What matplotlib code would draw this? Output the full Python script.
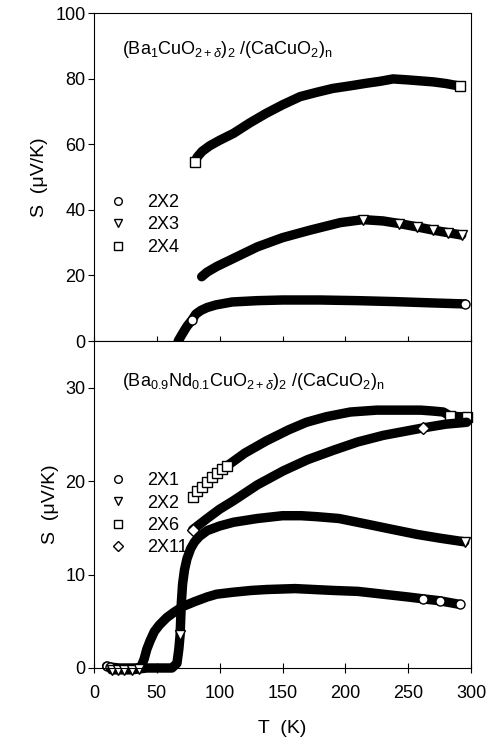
import matplotlib
matplotlib.use("Agg")
import matplotlib.pyplot as plt
import numpy as np

plt.rcParams["font.family"] = ["Liberation Sans", "DejaVu Sans"]
plt.rcParams["mathtext.fontset"] = "custom"
plt.rcParams["mathtext.rm"] = "Liberation Sans"
plt.rcParams["mathtext.it"] = "Liberation Sans:italic"

# ---------------- top panel: (Ba1CuO2+d)2/(CaCuO2)n ----------------
t_top_2x2 = [67, 70, 74, 78, 81, 85, 90, 97, 110, 130, 150, 180, 210, 240, 270, 295]
s_top_2x2 = [0, 2, 4.5, 6.4, 8.2, 9.3, 10.2, 11, 11.9, 12.3, 12.5, 12.5, 12.3, 12.0, 11.6, 11.3]

t_top_2x3 = [85.7, 90, 97.6, 110, 130, 150, 172, 196, 214, 230, 243, 257, 270, 282, 292.6]
s_top_2x3 = [19.6, 21, 22.7, 25, 28.7, 31.5, 33.8, 36.1, 37, 36.6, 35.8, 34.8, 33.8, 33, 32.3]

t_top_2x4 = [80.4, 82, 86, 92, 100, 111, 124, 137, 150, 164, 177, 190, 204, 217, 228, 238, 250, 260, 270, 280, 291.3]
s_top_2x4 = [54.5, 56, 57.8, 59.5, 61.2, 63.3, 66.5, 69.4, 72, 74.5, 75.8, 77, 77.8, 78.6, 79.2, 79.9, 79.6, 79.3, 79, 78.5, 77.7]

# ---------------- bottom panel: (Ba0.9Nd0.1CuO2+d)2/(CaCuO2)n ----------------
t_bot_2x1 = [10, 13, 20, 28, 36, 38, 40, 42, 44.6, 48, 52, 57.9, 64, 71, 80, 90, 97.6,
             110, 125, 137.4, 160, 190.4, 210, 230, 250, 262, 275, 291.3]
s_bot_2x1 = [0.2, 0.1, 0, 0, 0, 0.3, 1.0, 2.0, 2.9, 3.9, 4.6, 5.4, 6.0, 6.6, 7.1, 7.6, 7.9,
             8.1, 8.3, 8.4, 8.5, 8.3, 8.2, 7.9, 7.6, 7.4, 7.2, 6.8]

t_bot_2x2 = [14, 19, 24, 30, 36, 42, 48, 55, 62, 66, 67.5, 68.5, 69.5, 70.5, 72, 74, 77, 80, 84,
             90, 100, 111, 130, 150, 165, 177, 195, 217, 235, 257, 275, 295]
s_bot_2x2 = [-0.2, -0.2, -0.2, -0.2, -0.1, 0, 0, 0, 0, 0.5, 2, 3.5, 7, 9, 10.5, 11.7, 12.8, 13.5, 14.1,
             14.7, 15.2, 15.6, 16.0, 16.3, 16.3, 16.2, 16.0, 15.4, 14.9, 14.3, 13.9, 13.5]

t_bot_2x6 = [78.5, 82, 86, 90, 94, 98, 102, 105.6, 120, 137, 155, 169, 185, 204, 225, 244,
             260, 270, 278, 283, 290, 297]
s_bot_2x6 = [18.3, 18.9, 19.4, 19.9, 20.4, 20.9, 21.3, 21.6, 23, 24.3, 25.5, 26.3, 26.9, 27.4,
             27.6, 27.6, 27.6, 27.5, 27.4, 27.0, 26.9, 26.9]

t_bot_2x11 = [78.5, 90, 100, 110.9, 130, 150.6, 170, 190.4, 210, 230.2, 250, 262, 280, 296.6]
s_bot_2x11 = [14.8, 16.0, 17.0, 17.9, 19.6, 21.1, 22.3, 23.3, 24.2, 24.9, 25.4, 25.7, 26.1, 26.3]

top_title = r"(Ba$_1$CuO$_{2+\delta}$)$_2$ /(CaCuO$_2$)$_\mathrm{n}$"
bot_title = r"(Ba$_{0.9}$Nd$_{0.1}$CuO$_{2+\delta}$)$_2$ /(CaCuO$_2$)$_\mathrm{n}$"


def draw_series(ax, t, s, marker, label, mark_idx, line_from=0):
    t = np.asarray(t)
    s = np.asarray(s)
    ax.plot(t[line_from:], s[line_from:], color="k", lw=6.8,
            solid_capstyle="round", solid_joinstyle="round", clip_on=False)
    ax.plot(t[mark_idx], s[mark_idx], ls="none", marker=marker, ms=6.5,
            mfc="white", mec="k", mew=1.0, clip_on=False, label=label)


fig = plt.figure(figsize=(4.89, 7.47), dpi=100)
ax1 = fig.add_axes([94 / 489, 1 - 341 / 747, 377 / 489, 328 / 747])
ax2 = fig.add_axes([94 / 489, 1 - 668 / 747, 377 / 489, 327 / 747])

draw_series(ax1, t_top_2x2, s_top_2x2, "o", "2X2", [3, -1])
draw_series(ax1, t_top_2x3, s_top_2x3, "v", "2X3", [8, 10, 11, 12, 13, -1])
draw_series(ax1, t_top_2x4, s_top_2x4, "s", "2X4", [0, -1])

draw_series(ax2, t_bot_2x1, s_bot_2x1, "o", "2X1", [0, 1, -3, -2, -1])
draw_series(ax2, t_bot_2x2, s_bot_2x2, "v", "2X2", [0, 1, 2, 3, 4, 11, -1])
draw_series(ax2, t_bot_2x6, s_bot_2x6, "s", "2X6", list(range(8)) + [-3, -1], line_from=7)
draw_series(ax2, t_bot_2x11, s_bot_2x11, "D", "2X11", [0, -3])

ax1.set_xlim(0, 300)
ax1.set_ylim(0, 100)
ax2.set_xlim(0, 300)
ax2.set_ylim(0, 35)

ax1.set_yticks([0, 20, 40, 60, 80, 100])
ax2.set_yticks([0, 10, 20, 30])
for ax in (ax1, ax2):
    ax.set_xticks([0, 50, 100, 150, 200, 250, 300])
    ax.tick_params(axis="y", direction="out", length=4.5, width=0.8, pad=1.5, labelsize=13)
ax1.tick_params(axis="x", direction="in", length=3.5, width=0.8, labelbottom=False)
ax2.tick_params(axis="x", direction="inout", length=7, width=0.8, pad=9, labelsize=13)

ax1.set_ylabel("S  (\u03bcV/K)", fontsize=14, labelpad=5)
ax2.set_ylabel("S  (\u03bcV/K)", fontsize=14, labelpad=5)
ax2.set_xlabel("T  (K)", fontsize=14, labelpad=13)

ax1.text(0.074, 0.889, top_title, transform=ax1.transAxes, fontsize=13, va="center", ha="left")
ax2.text(0.074, 0.875, bot_title, transform=ax2.transAxes, fontsize=13, va="center", ha="left")

leg_kw = dict(loc="upper left", frameon=False, fontsize=13, handlelength=1.0,
              handletextpad=1.1, labelspacing=0.3, borderpad=0, borderaxespad=0,
              markerscale=0.85)
ax1.legend(bbox_to_anchor=(0.04, 0.448), **leg_kw)
ax2.legend(bbox_to_anchor=(0.04, 0.599), **leg_kw)

fig.savefig("out.png", dpi=100)
